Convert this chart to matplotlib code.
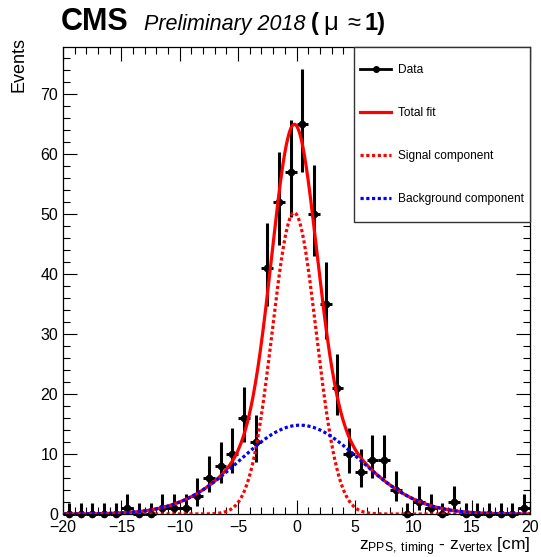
import math
import numpy as np
import matplotlib
matplotlib.use("Agg")
import matplotlib.pyplot as plt
from matplotlib.lines import Line2D
from matplotlib.patches import Rectangle

plt.rcParams['font.family'] = ['Liberation Sans', 'DejaVu Sans']
plt.rcParams['mathtext.fontset'] = 'custom'
plt.rcParams['mathtext.rm'] = 'Liberation Sans'
plt.rcParams['mathtext.it'] = 'Liberation Sans:italic'
plt.rcParams['mathtext.bf'] = 'Liberation Sans:bold'

# histogram: 1 cm bins from -20 to 20
bin_edges = np.linspace(-20, 20, 41)
counts = [0, 0, 0, 0, 0, 1, 0, 0, 1, 1,
          1, 3, 6, 8, 10, 16, 12, 41, 52, 57,
          65, 50, 35, 21, 10, 7, 9, 9, 4, 0,
          2, 1, 0, 2, 0, 0, 0, 0, 0, 1]

# fitted components (gaussians)
sig_amp, sig_mean, sig_width = 50.2, -0.2, 1.88
bkg_amp, bkg_mean, bkg_width = 14.8, 0.3, 5.15

legend_labels = ["Data", "Total fit", "Signal component", "Background component"]


def poisson_interval(n, cl=0.682689):
    # Garwood interval, like ROOT's kPoisson error option
    a = (1 - cl) / 2

    def cdf(k, mu):
        if k < 0:
            return 0.0
        return sum(math.exp(i * math.log(mu) - mu - math.lgamma(i + 1)) for i in range(k + 1))

    def solve(f, target, lo, hi):
        for _ in range(80):
            mid = 0.5 * (lo + hi)
            if f(mid) > target:
                lo = mid
            else:
                hi = mid
        return 0.5 * (lo + hi)

    top = n + 10 * math.sqrt(n + 1) + 10
    up = solve(lambda m: cdf(n, m), a, 1e-9, top)
    low = 0.0 if n == 0 else solve(lambda m: cdf(n - 1, m), 1 - a, 1e-9, top)
    return n - low, up - n


def gauss(x, amp, mean, width):
    return amp * np.exp(-0.5 * ((x - mean) / width) ** 2)


centers = 0.5 * (bin_edges[:-1] + bin_edges[1:])
errs = np.array([poisson_interval(n) for n in counts]).T

xs = np.linspace(-20, 20, 1001)
sig = gauss(xs, sig_amp, sig_mean, sig_width)
bkg = gauss(xs, bkg_amp, bkg_mean, bkg_width)
total = sig + bkg

fig = plt.figure(figsize=(5.41, 5.57), dpi=100)
ax = fig.add_axes([63 / 541, 1 - 514 / 557, 467 / 541, 467.5 / 557])

ax.errorbar(centers, counts, xerr=0.5, yerr=errs, fmt='o', color='black',
            ms=4.5, lw=2.2, capsize=0, clip_on=False, zorder=3)
dot = (0, (1.0, 0.8))
ax.plot(xs, total, color='red', lw=2.3, zorder=4)
ax.plot(xs, sig, color='red', lw=2.3, ls=dot, zorder=5)
ax.plot(xs, bkg, color='blue', lw=2.3, ls=dot, zorder=6)

ax.set_xlim(-20, 20)
ax.set_ylim(0, 77.9)
ax.set_xticks(np.arange(-20, 21, 5))
ax.set_xticks(np.arange(-20, 21, 1), minor=True)
ax.set_yticks(np.arange(0, 71, 10))
ax.set_yticks(np.arange(0, 78, 2), minor=True)
ax.tick_params(which='both', direction='in', top=True, right=True, width=0.8,
               labelsize=11.5)
ax.tick_params(which='major', length=10)
ax.tick_params(which='minor', length=5)
ax.tick_params(axis='y', pad=3.5)
ax.tick_params(axis='x', pad=4)
for s in ax.spines.values():
    s.set_linewidth(0.9)

ax.set_ylabel('Events', fontsize=13, loc='top')
ax.yaxis.set_label_coords(-0.075, 1.021)
ax.set_xlabel(r'z$_{\mathrm{PPS,\ timing}}$ - z$_{\mathrm{vertex}}$ [cm]',
              fontsize=12.5, loc='right')
ax.xaxis.set_label_coords(1.0, -0.046)

# legend box in the upper right corner
ax.add_patch(Rectangle((0.623, 0.625), 0.377, 0.375, transform=ax.transAxes,
                       facecolor='white', edgecolor='#333333', lw=1.0,
                       clip_on=False, zorder=7))
handles = [Line2D([], [], color='black', marker='o', ms=4, lw=2),
           Line2D([], [], color='red', lw=2.3),
           Line2D([], [], color='red', lw=2.3, ls=dot),
           Line2D([], [], color='blue', lw=2.3, ls=dot)]
leg = ax.legend(handles, legend_labels, loc='upper left',
                bbox_to_anchor=(0.637, 0.962), frameon=False, fontsize=8.6,
                borderpad=0, borderaxespad=0, handlelength=2.55,
                handletextpad=0.6, labelspacing=2.6)
leg.set_zorder(8)

# header: CMS Preliminary 2018 (mu ~ 1)
fig.canvas.draw()
r = fig.canvas.get_renderer()
y0 = 1 - 30 / 557
pieces = [("CMS", dict(fontsize=22, fontweight='bold'), 61, 0),
          ("Preliminary 2018", dict(fontsize=15.5, fontstyle='italic'), 144, 0),
          ("(", dict(fontsize=17, fontweight='bold'), 311, 4),
          ("\u03bc", dict(fontsize=18.5), None, 10),
          ("\u2248", dict(fontsize=17), None, 4),
          ("1)", dict(fontsize=17, fontweight='bold'), None, 0)]
xpos = None
for txt, kw, px, gap in pieces:
    x = px / 541 if px is not None else xpos
    t = fig.text(x, y0, txt, va='baseline', ha='left', **kw)
    bb = t.get_window_extent(r)
    xpos = (bb.x1 + gap) / fig.bbox.width

fig.savefig('out.png', dpi=100)
